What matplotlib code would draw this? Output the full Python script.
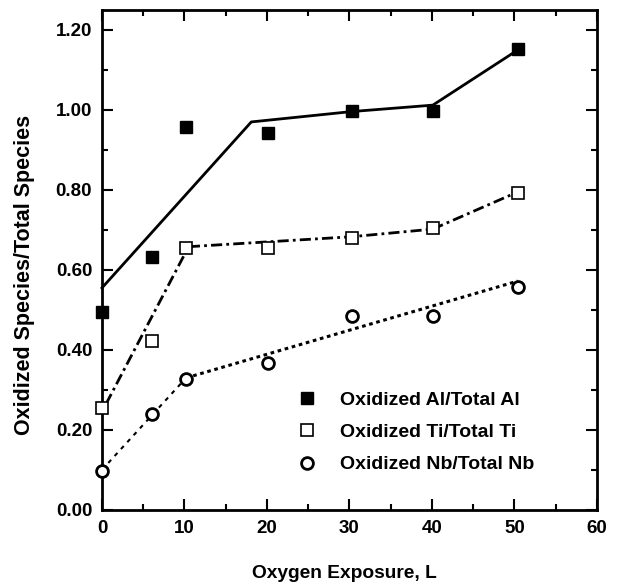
import matplotlib
matplotlib.use("Agg")
import matplotlib.pyplot as plt
from matplotlib.ticker import MultipleLocator, FormatStrFormatter

plt.rcParams['font.family'] = ['Liberation Sans', 'DejaVu Sans']
plt.rcParams['font.weight'] = 'bold'

# measured points
exposure = [0, 6.1, 10.2, 20.1, 30.3, 40.1, 50.4]
al_ratio = [0.494, 0.633, 0.958, 0.943, 0.997, 0.998, 1.152]
ti_ratio = [0.254, 0.422, 0.654, 0.654, 0.679, 0.704, 0.793]
nb_ratio = [0.098, 0.240, 0.327, 0.367, 0.485, 0.485, 0.557]

# guide lines drawn through the data
al_fit_x = [0, 18.1, 30.3, 40.1, 50.4]
al_fit_y = [0.555, 0.970, 0.996, 1.012, 1.150]
ti_fit_x = [0.5, 10.5, 30.3, 40.1, 50.4]
ti_fit_y = [0.265, 0.658, 0.683, 0.702, 0.795]
nb_fit1_x = [0, 10.2]
nb_fit1_y = [0.100, 0.330]
nb_fit2_x = [10.2, 50.4]
nb_fit2_y = [0.330, 0.572]

fig = plt.figure(figsize=(6.18, 5.86), dpi=100)
ax = fig.add_axes([0.165, 0.13, 0.801, 0.853])

ax.plot(al_fit_x, al_fit_y, color='black', lw=2.0, clip_on=False)
ax.plot(ti_fit_x, ti_fit_y, color='black', lw=2.0, linestyle=(0, (4, 1.5, 1, 1.5)))
ax.plot(nb_fit1_x, nb_fit1_y, color='black', lw=1.5, linestyle=(0, (2, 2.5)))
ax.plot(nb_fit2_x, nb_fit2_y, color='black', lw=2.2, linestyle=(0, (1.2, 1.2)))

ax.plot(exposure, al_ratio, 's', color='black', ms=9, clip_on=False,
        label='Oxidized Al/Total Al', zorder=5)
ax.plot(exposure, ti_ratio, 's', mfc='white', mec='black', mew=1.2, ms=9,
        clip_on=False, label='Oxidized Ti/Total Ti', zorder=5)
ax.plot(exposure, nb_ratio, 'o', mfc='white', mec='black', mew=2, ms=8.5,
        clip_on=False, label='Oxidized Nb/Total Nb', zorder=5)

ax.set_xlim(0, 60)
ax.set_ylim(0, 1.25)
ax.xaxis.set_major_locator(MultipleLocator(10))
ax.xaxis.set_minor_locator(MultipleLocator(5))
ax.yaxis.set_major_locator(MultipleLocator(0.2))
ax.yaxis.set_minor_locator(MultipleLocator(0.1))
ax.yaxis.set_major_formatter(FormatStrFormatter('%.2f'))
ax.tick_params(which='both', direction='in', top=True, right=True, width=1.5,
               labelsize=13.5, pad=7)
ax.tick_params(which='major', length=8)
ax.tick_params(which='minor', length=4)
for s in ax.spines.values():
    s.set_linewidth(2)

ax.set_xlabel('Oxygen Exposure, L', fontsize=13.8, fontweight='bold')
ax.xaxis.set_label_coords(0.49, -0.111)
ax.set_ylabel('Oxidized Species/Total Species', fontsize=15.5, fontweight='bold')
ax.yaxis.set_label_coords(-0.136, 0.47)

leg = ax.legend(loc='upper left', bbox_to_anchor=(0.359, 0.272), frameon=False,
                fontsize=14, handlelength=1.0, handletextpad=1.2, labelspacing=0.75,
                borderpad=0.4, numpoints=1)

fig.savefig('out.png', dpi=100)
